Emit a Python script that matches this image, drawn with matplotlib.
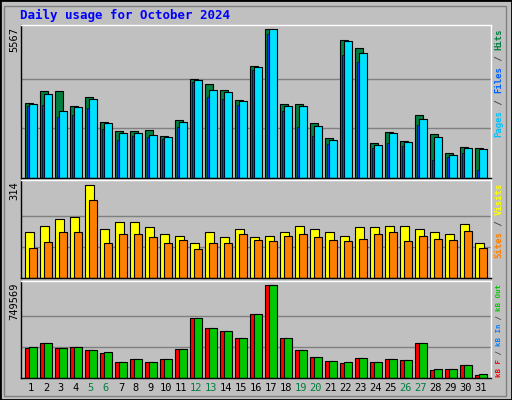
import matplotlib
matplotlib.use("Agg")
import matplotlib.pyplot as plt
from matplotlib.patches import Rectangle

days = list(range(1, 32))
weekend = [5, 6, 12, 13, 19, 20, 26, 27]
hits = [2809,3237,3237,2695,3035,2091,1751,1751,1789,1562,2166,3716,3527,3300,2922,4169,5567,2771,2771,2053,1486,5151,4849,1297,1713,1373,2355,1637,919,1146,1108]
files = [2771,3149,2506,2658,2960,2053,1675,1675,1600,1524,2091,3678,3300,3224,2884,4131,5567,2695,2695,1940,1411,5113,4660,1222,1675,1335,2204,1524,844,1108,1071]
pages = [2695,2746,2292,2368,2632,1839,1411,1574,1537,1461,1902,3602,3035,2960,2733,4018,5378,2506,1902,1562,1259,4585,4320,1108,1297,1184,1977,655,768,919,315]
visits = [157,174,198,205,314,167,188,188,171,147,143,119,157,140,164,140,143,154,177,167,157,143,171,171,174,174,167,157,150,184,119]
sites = [102,123,154,157,263,119,150,147,137,119,130,99,119,119,150,130,126,143,150,137,130,126,133,147,157,126,143,133,130,160,102]
kbf = [239863,280747,239863,248040,223507,198976,125382,149914,125382,149914,231685,485175,403403,378872,321633,517883,749569,321633,223507,166268,133559,117205,158091,125382,149914,141736,280747,59965,68142,100851,19080]
kbout = [248040,280747,239863,248040,223507,207153,125382,149914,125382,149914,231685,485175,403403,378872,321633,517883,749569,321633,223507,166268,133559,125382,158091,125382,149914,141736,280747,68142,68142,100851,27257]

W, H = 512, 400
BG = "#C0C0C0"
fig = plt.figure(figsize=(W/100, H/100), dpi=100)
fig.patch.set_facecolor(BG)
fig.add_artist(Rectangle((0, 0), 1, 1, transform=fig.transFigure, fill=False, ec="black", lw=2))
fig.add_artist(Rectangle((4/W, 4/H), (W-10)/W, (H-10)/H, transform=fig.transFigure, fill=False, ec="#808080", lw=1))

FONT = "DejaVu Sans Mono"
L, R = 20.7, 490.7

def make_ax(top, bottom):
    ax = fig.add_axes([L/W, 1-bottom/H, (R-L)/W, (bottom-top)/H])
    ax.set_facecolor(BG)
    ax.set_xlim(0, R-L)
    ax.set_xticks([]); ax.set_yticks([])
    for s in ax.spines.values():
        s.set_color("black"); s.set_linewidth(1)
    ax.spines["top"].set_color("white"); ax.spines["right"].set_color("white")
    return ax

def xs(off):
    return [4.6 + 15*(d-1) + off for d in days]

bk = dict(edgecolor="black", linewidth=0.8, align="edge")

ax1 = make_ax(25, 178)
m1 = hits[16]
ax1.set_ylim(0, m1*151/147)
for f in (1/3, 2/3):
    ax1.axhline(m1*f, color="#808080", lw=1, zorder=0)
ax1.bar(xs(0), hits, width=7.4, color="#008040", **bk)
ax1.bar(xs(4), files, width=7.4, color="#00E0FF", **bk)
ax1.bar(xs(1.4), pages, width=2.2, color="#0040FF", edgecolor="black", linewidth=0.5, align="edge")

ax2 = make_ax(180, 278)
m2 = max(visits)
ax2.set_ylim(0, m2*97/92)
for f in (1/3, 2/3):
    ax2.axhline(m2*f, color="#808080", lw=1, zorder=0)
ax2.bar(xs(0), visits, width=8.4, color="#FFFF00", **bk)
ax2.bar(xs(4), sites, width=7.4, color="#FF8000", **bk)

ax3 = make_ax(280.7, 377.7)
m3 = max(kbf)
ax3.set_ylim(0, m3*96/91.7)
for f in (1/3, 2/3):
    ax3.axhline(m3*f, color="#808080", lw=1, zorder=0)
ax3.bar(xs(0), kbf, width=7.4, color="#FF0000", **bk)
ax3.bar(xs(4), kbout, width=7.4, color="#00C800", **bk)

fig.text(20/W, 1-15/H, "Daily usage for October 2024", color="#0000FF", fontsize=9,
         fontweight="bold", family=FONT, va="center", ha="left")

for txt, ytop in (("5567", 27), ("314", 181), ("749569", 283)):
    fig.text(14/W, 1-ytop/H, txt, rotation=90, fontsize=7.5, family=FONT, va="top", ha="center", color="black")

for d, x in zip(days, xs(5.6)):
    fig.text((L+x)/W, 1-388/H, str(d), fontsize=7.5, family=FONT, ha="center", va="center",
             color="#008040" if d in weekend else "black")

renderer = fig.canvas.get_renderer()
def right_label(pieces, ybottom, ytop):
    # measure total length at size 1, then scale fontsize to fit span
    total = "".join(p for p, _ in pieces)
    t = fig.text(0, 0, total, fontsize=10, family=FONT, fontweight="bold")
    w = t.get_window_extent(renderer).width
    t.remove()
    fs = 10 * (ybottom - ytop) / w
    y = ybottom
    for txt, col in pieces:
        tt = fig.text(499/W, 1-y/H, txt, rotation=90, fontsize=fs, family=FONT, fontweight="bold",
                      color=col, ha="center", va="bottom", rotation_mode="default")
        y -= (ybottom - ytop) * len(txt) / len(total)

right_label([("Pages", "#00C0FF"), (" / ", "#404040"), ("Files", "#0060FF"), (" / ", "#404040"), ("Hits", "#008040")], 137, 28)
right_label([("Sites", "#FF8000"), (" / ", "#404040"), ("Visits", "#FFFF00")], 258, 182)
right_label([("kB F", "#FF0000"), (" / ", "#404040"), ("kB In", "#0080FF"), (" / ", "#404040"), ("kB Out", "#00C800")], 377, 284)

fig.savefig("out.png", dpi=100, facecolor=BG)
